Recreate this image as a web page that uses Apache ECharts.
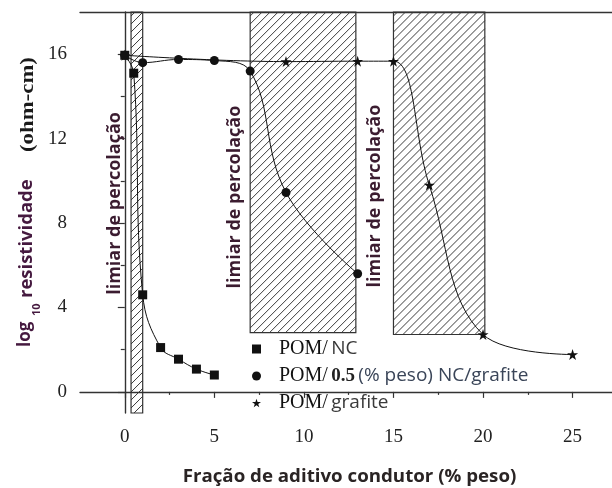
<!DOCTYPE html>
<html>
<head>
<meta charset="utf-8">
<script src="https://cdn.jsdelivr.net/npm/echarts@6/dist/echarts.min.js"></script>
<style>
  html, body { margin: 0; padding: 0; background: #fff; }
  #chart { width: 612px; height: 488px; }
</style>
</head>
<body>
<div id="chart"></div>
<script>
// Resistivity (log10 ohm-cm) versus conductive additive fraction (% weight)
const ncX = [0, 0.5, 1, 2, 3, 4, 5];
const ncY = [15.95, 15.1, 4.6, 2.1, 1.55, 1.08, 0.8];

const hybridX = [0, 1, 3, 5, 7, 9, 13];
const hybridY = [15.95, 15.6, 15.75, 15.7, 15.2, 9.45, 5.6];

const grafX = [0, 9, 13, 15, 17, 20, 25];
const grafY = [15.95, 15.65, 15.67, 15.67, 9.8, 2.72, 1.77];

const seriesNames = ['POM/ NC', 'POM/ 0.5 (% peso) NC/grafite', 'POM/ grafite'];

// Percolation threshold regions: [xStart, xEnd, yBottom, yTop]
const thresholdBands = [
  [0.35, 1.0, -1, 18],
  [7.0, 12.9, 2.81, 18],
  [15.0, 20.1, 2.72, 18]
];
const thresholdText = 'limiar de percolação';
// Anchor of each threshold caption (start of the rotated text) in data units
const thresholdCaptionAt = [[-0.55, 4.6], [6.15, 4.9], [13.95, 4.95]];

const xTickLabels = [0, 5, 10, 15, 20, 25];
const xMinorTicks = [2.5, 7.5, 12.5, 17.5, 22.5];
const yTickLabels = [0, 4, 8, 12, 16];
const yMinorTicks = [2, 6, 10, 14];

const xTitle = 'Fração de aditivo condutor (% peso)';

const zip = (xs, ys) => xs.map((x, i) => [x, ys[i]]);

const starPath = 'path://M50,0 L61.8,35.1 L98.9,35.1 L68.9,56.9 L80.3,91.9 L50,70.2 L19.7,91.9 L31.1,56.9 L1.1,35.1 L38.2,35.1 Z';

const chart = echarts.init(document.getElementById('chart'), null, { renderer: 'canvas' });

const axisLineStyle = { color: '#333', width: 1.4 };
const serif = "'Liberation Serif', 'DejaVu Serif', serif";
const sans = "'Open Sans', 'Noto Sans', sans-serif";

const legendParts = {
  'POM/ NC': '{s|POM/} {t|NC}',
  'POM/ 0.5 (% peso) NC/grafite': '{s|POM/} {n|0.5} {u|(% peso) NC/grafite}',
  'POM/ grafite': '{s|POM/} {t|grafite}'
};

// Hatched rectangle: outline plus "/" diagonals clipped to the box
function hatchedRect(x0, y0, x1, y1, step) {
  const children = [];
  for (let c = x0 + y0 + step / 2; c < x1 + y1; c += step) {
    const ax = Math.max(x0, c - y1);
    const bx = Math.min(x1, c - y0);
    if (bx <= ax) continue;
    children.push({
      type: 'line',
      shape: { x1: ax, y1: c - ax, x2: bx, y2: c - bx },
      style: { stroke: '#3a3a3a', lineWidth: 1 }
    });
  }
  children.push({
    type: 'rect',
    shape: { x: x0, y: y0, width: x1 - x0, height: y1 - y0 },
    style: { fill: 'none', stroke: '#333', lineWidth: 1.2 }
  });
  return { type: 'group', children };
}

const option = {
  animation: false,
  grid: { left: 80, top: 12, right: 0, bottom: 75 },
  xAxis: [
    {
      type: 'value', min: -2.5, max: 27.2, position: 'bottom',
      axisLine: { show: true, lineStyle: axisLineStyle },
      axisTick: { show: true, inside: false, length: 6, customValues: xTickLabels, lineStyle: { color: '#333', width: 1.2 } },
      axisLabel: { customValues: xTickLabels, margin: 15, fontFamily: serif, fontSize: 19, color: '#222' },
      splitLine: { show: false }
    },
    {
      type: 'value', min: -2.5, max: 27.2, position: 'bottom',
      axisLine: { show: false },
      axisTick: { show: true, length: 3, customValues: xMinorTicks, lineStyle: { color: '#333', width: 1.2 } },
      axisLabel: { show: false },
      splitLine: { show: false }
    },
    {
      type: 'value', min: -2.5, max: 27.2, position: 'top',
      axisLine: { show: true, lineStyle: axisLineStyle },
      axisTick: { show: false }, axisLabel: { show: false }, splitLine: { show: false }
    }
  ],
  yAxis: [
    {
      type: 'value', min: -1, max: 18, position: 'left',
      axisLine: { show: true, lineStyle: axisLineStyle },
      axisTick: { show: true, length: 7, customValues: yTickLabels, lineStyle: { color: '#333', width: 1.2 } },
      axisLabel: { customValues: yTickLabels, margin: 13, fontFamily: serif, fontSize: 19, color: '#222' },
      splitLine: { show: false }
    },
    {
      type: 'value', min: -1, max: 18, position: 'left',
      axisLine: { show: false },
      axisTick: { show: true, length: 4, customValues: yMinorTicks, lineStyle: { color: '#333', width: 1.2 } },
      axisLabel: { show: false },
      splitLine: { show: false }
    }
  ],
  legend: {
    orient: 'vertical',
    left: 247, top: 334,
    itemWidth: 9, itemHeight: 9, itemGap: 7,
    data: [
      { name: seriesNames[0], icon: 'rect' },
      { name: seriesNames[1], icon: 'circle' },
      { name: seriesNames[2], icon: starPath }
    ],
    formatter: name => legendParts[name],
    textStyle: {
      rich: {
        s: { fontFamily: serif, fontSize: 20, color: '#111', padding: [0, 0, 0, 13] },
        t: { fontFamily: sans, fontSize: 19, color: '#3a3a3a' },
        n: { fontFamily: serif, fontSize: 19, fontWeight: 'bold', color: '#222' },
        u: { fontFamily: sans, fontSize: 19, color: '#3a4558' }
      }
    }
  },
  series: [
    {
      type: 'custom',
      name: 'bands',
      xAxisIndex: 0, yAxisIndex: 0,
      silent: true,
      encode: { x: [0, 1], y: [2, 3] },
      data: thresholdBands,
      z: 1,
      renderItem: (params, api) => {
        const tl = api.coord([api.value(0), api.value(3)]);
        const br = api.coord([api.value(1), api.value(2)]);
        return hatchedRect(tl[0], tl[1], br[0], br[1], 8);
      }
    },
    {
      type: 'line', name: seriesNames[2], data: zip(grafX, grafY),
      smooth: 0.4, symbol: starPath, symbolSize: 11,
      lineStyle: { color: '#111', width: 1 }, itemStyle: { color: '#111' }, z: 3
    },
    {
      type: 'line', name: seriesNames[1], data: zip(hybridX, hybridY),
      smooth: 0.4, symbol: 'circle', symbolSize: 9,
      lineStyle: { color: '#111', width: 1 }, itemStyle: { color: '#111' }, z: 4
    },
    {
      type: 'line', name: seriesNames[0], data: zip(ncX, ncY),
      smooth: 0.4, symbol: 'rect', symbolSize: 9,
      lineStyle: { color: '#111', width: 1 }, itemStyle: { color: '#111' }, z: 5
    }
  ]
};

chart.setOption(option);

// Rotated captions and axis titles
function captionGraphics() {
  const els = [];
  thresholdCaptionAt.forEach(pt => {
    const p = chart.convertToPixel({ xAxisIndex: 0, yAxisIndex: 0 }, pt);
    els.push({
      type: 'text', x: p[0], y: p[1], rotation: Math.PI / 2, z: 10,
      style: { text: thresholdText, font: "bold 18px 'Open Sans', sans-serif", fill: '#3b1c30', align: 'left', verticalAlign: 'middle' }
    });
  });
  // y-axis title: log10 resistividade (ohm-cm)
  els.push({
    type: 'text', x: 25, y: 347, rotation: Math.PI / 2,
    style: { text: 'log', font: "bold 17px 'Open Sans', sans-serif", fill: '#45193f', align: 'left', verticalAlign: 'middle' }
  });
  els.push({
    type: 'text', x: 37, y: 316, rotation: Math.PI / 2,
    style: { text: '10', font: "bold 11px 'Open Sans', sans-serif", fill: '#45193f', align: 'left', verticalAlign: 'middle' }
  });
  els.push({
    type: 'text', x: 27, y: 298, rotation: Math.PI / 2,
    style: { text: 'resistividade', font: "bold 18.5px 'Open Sans', sans-serif", fill: '#45193f', align: 'left', verticalAlign: 'middle' }
  });
  els.push({
    type: 'text', x: 28, y: 152, rotation: Math.PI / 2, scaleX: 1.2,
    style: { text: '(ohm-cm)', font: "bold 19px 'Liberation Serif', serif", fill: '#1a1a1a', align: 'left', verticalAlign: 'middle' }
  });
  els.push({
    type: 'text', x: 349.5, y: 477, scaleX: 1.1,
    style: { text: xTitle, font: "bold 17px 'Open Sans', sans-serif", fill: '#2a2424', align: 'center', verticalAlign: 'middle' }
  });
  return els;
}
chart.setOption({ graphic: captionGraphics() });
</script>
</body>
</html>
